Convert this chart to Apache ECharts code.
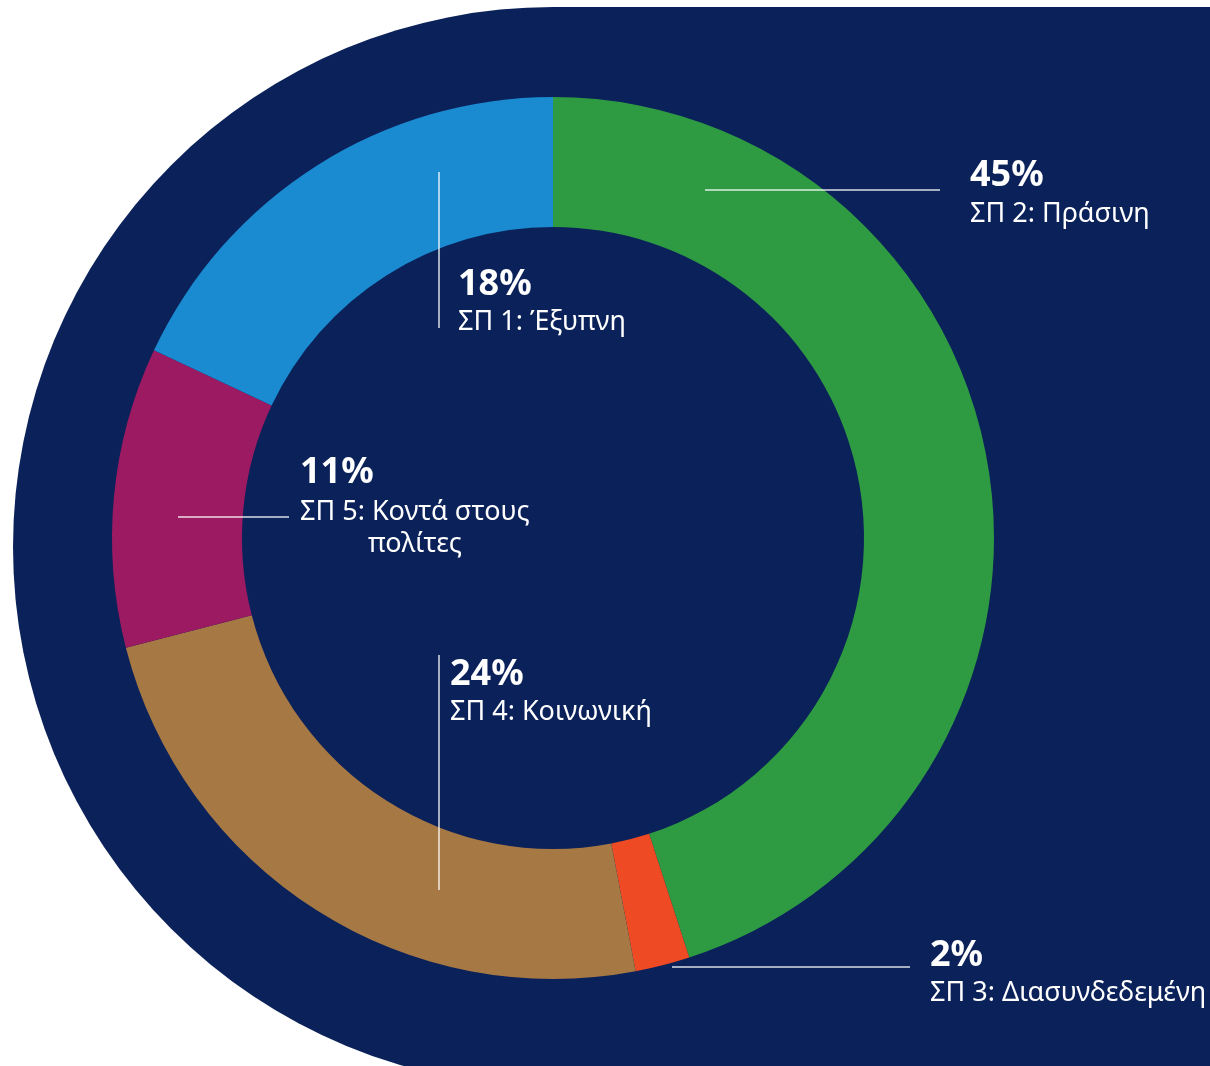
<!DOCTYPE html>
<html>
<head>
<meta charset="utf-8">
<script src="https://cdn.jsdelivr.net/npm/echarts@6/dist/echarts.min.js"></script>
<style>
html,body{margin:0;padding:0;background:#ffffff;}
#chart{width:1210px;height:1066px;}
</style>
</head>
<body>
<div id="chart"></div>
<script>
// ---- data ----
var categories = ['ΣΠ 2: Πράσινη', 'ΣΠ 3: Διασυνδεδεμένη', 'ΣΠ 4: Κοινωνική', 'ΣΠ 5: Κοντά στους πολίτες', 'ΣΠ 1: Έξυπνη'];
var values = [45, 2, 24, 11, 18];
var colors = ['#2e9b43', '#ee4a24', '#a57844', '#9b1a62', '#1a8ad1'];
var labelLines = [['ΣΠ 2: Πράσινη'], ['ΣΠ 3: Διασυνδεδεμένη'], ['ΣΠ 4: Κοινωνική'], ['ΣΠ 5: Κοντά στους', 'πολίτες'], ['ΣΠ 1: Έξυπνη']];

// ---- layout (positions only) ----
var NAVY = '#0b2159';
var CX = 553, CY = 538;
var labelPos = [
  {x: 970, pctY: 176, descY: 214, line: [[705, 190], [940, 190]]},
  {x: 930, pctY: 956, descY: 993, line: [[672, 967], [910, 967]]},
  {x: 450, pctY: 675, descY: 712, line: [[439, 655], [439, 890]]},
  {x: 300, pctY: 473, descY: 512, line: [[178, 517], [289, 517]], extraX: [368]},
  {x: 458, pctY: 285, descY: 322, line: [[439, 172], [439, 328]]}
];

var total = values.reduce(function(a, b){ return a + b; }, 0);
var graphics = [
  {type: 'circle', z: 0, shape: {cx: CX, cy: 547, r: 540}, style: {fill: NAVY}},
  {type: 'rect', z: 0, shape: {x: CX, y: 7, width: 1210 - CX, height: 1066 - 7}, style: {fill: NAVY}}
];
for (var i = 0; i < values.length; i++) {
  var p = labelPos[i];
  graphics.push({type: 'line', z: 10, shape: {x1: p.line[0][0], y1: p.line[0][1], x2: p.line[1][0], y2: p.line[1][1]},
    style: {stroke: 'rgba(255,255,255,0.85)', lineWidth: 1.5}});
  graphics.push({type: 'text', z: 10, x: p.x, y: p.pctY,
    style: {text: Math.round(values[i] / total * 100) + '%', fill: '#ffffff', font: 'bold 36px "Noto Sans", sans-serif',
      textAlign: 'left', textVerticalAlign: 'middle', verticalAlign: 'middle'}});
  for (var j = 0; j < labelLines[i].length; j++) {
    var lx = j === 0 ? p.x : p.extraX[j - 1];
    graphics.push({type: 'text', z: 10, x: lx, y: p.descY + j * 32,
      style: {text: labelLines[i][j], fill: '#ffffff', font: '27px "Noto Sans", sans-serif',
        textAlign: 'left', textVerticalAlign: 'middle', verticalAlign: 'middle'}});
  }
}

var chart = echarts.init(document.getElementById('chart'), null, {renderer: 'canvas'});
chart.setOption({
  backgroundColor: '#ffffff',
  animation: false,
  graphic: {elements: graphics},
  series: [{
    type: 'pie',
    z: 5,
    center: [CX, CY],
    radius: [311, 441],
    startAngle: 90,
    clockwise: true,
    label: {show: false},
    labelLine: {show: false},
    silent: true,
    itemStyle: {borderWidth: 0},
    data: categories.map(function(c, i){ return {name: c, value: values[i], itemStyle: {color: colors[i]}}; })
  }]
});
</script>
</body>
</html>
